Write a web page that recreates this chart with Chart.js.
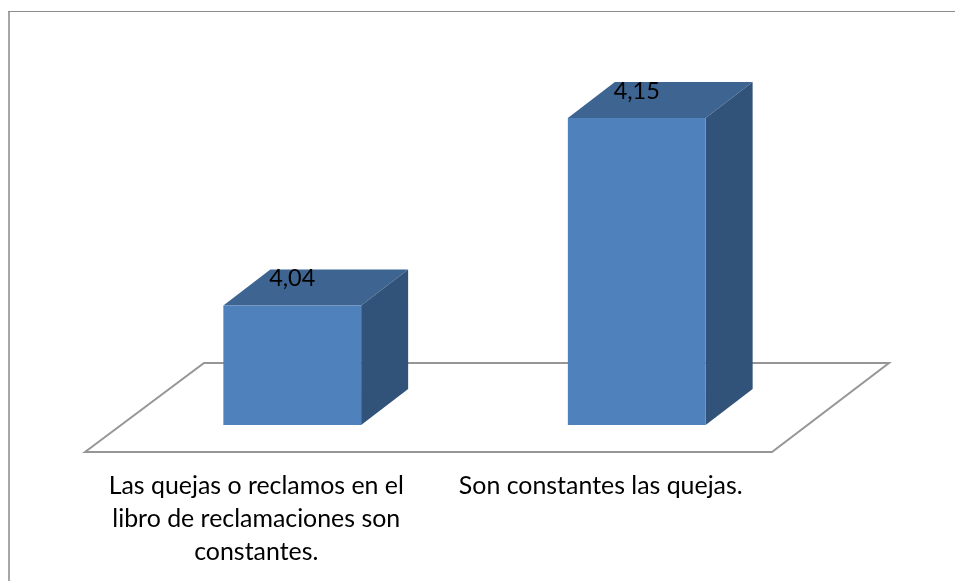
<!DOCTYPE html>
<html lang="es">
<head>
<meta charset="utf-8">
<title>Quejas y reclamos</title>
<script src="https://cdn.jsdelivr.net/npm/chart.js@4"></script>
<style>
  html, body { margin: 0; padding: 0; background: #ffffff; overflow: hidden; }
  canvas { display: block; }
</style>
</head>
<body>
<canvas id="chart1" width="957" height="581"></canvas>
<script>
// Datos del grafico
const categories = [
    ['Las quejas o reclamos en el', 'libro de reclamaciones son', 'constantes.'],
    ['Son constantes las quejas.']
];
const values = [4.04, 4.15];
const axisMin = 3.97;
const axisMax = 4.15;

const fontName = 'Lato, "Noto Sans", sans-serif';

// Marco gris (solo arriba e izquierda) y piso en perspectiva
const floorPlugin = {
    id: 'floor',
    beforeDatasetsDraw(chart) {
        const ctx = chart.ctx;
        const area = chart.chartArea;
        ctx.save();

        ctx.fillStyle = '#a6a6a6';
        ctx.fillRect(8, 11, 2, chart.height - 11);
        ctx.fillStyle = '#8c8c8c';
        ctx.fillRect(8, 11, chart.width - 10, 1);

        ctx.strokeStyle = '#969696';
        ctx.lineWidth = 2;
        ctx.lineJoin = 'miter';
        ctx.beginPath();
        ctx.moveTo(area.left - 35, area.bottom + 27);
        ctx.lineTo(area.left + 84, area.bottom - 62);
        ctx.lineTo(area.right + 80, area.bottom - 62);
        ctx.lineTo(area.right - 37, area.bottom + 27);
        ctx.closePath();
        ctx.stroke();

        // Caras superior y lateral de cada barra
        const dx = 47, dy = 36;
        chart.getDatasetMeta(0).data.forEach(function (bar) {
            const left = bar.x - bar.width / 2;
            const right = bar.x + bar.width / 2;

            ctx.fillStyle = '#3e6591';
            ctx.beginPath();
            ctx.moveTo(left, bar.y);
            ctx.lineTo(left + dx, bar.y - dy);
            ctx.lineTo(right + dx, bar.y - dy);
            ctx.lineTo(right, bar.y);
            ctx.closePath();
            ctx.fill();

            // La base de la barra queda fuera de la escala, se usa el borde del area
            ctx.fillStyle = '#325379';
            ctx.beginPath();
            ctx.moveTo(right, bar.y);
            ctx.lineTo(right + dx, bar.y - dy);
            ctx.lineTo(right + dx, area.bottom - dy);
            ctx.lineTo(right, area.bottom);
            ctx.closePath();
            ctx.fill();
        });
        ctx.restore();
    },
    afterDatasetsDraw(chart) {
        // Etiquetas de valor con coma decimal
        const ctx = chart.ctx;
        ctx.save();
        ctx.font = '23.5px ' + fontName;
        ctx.fillStyle = '#000000';
        ctx.textAlign = 'center';
        ctx.textBaseline = 'middle';
        chart.getDatasetMeta(0).data.forEach(function (bar, i) {
            ctx.fillText(values[i].toFixed(2).replace('.', ','), bar.x, bar.y - 27);
        });
        ctx.restore();
    }
};

const chart1 = new Chart(document.getElementById('chart1'), {
    type: 'bar',
    data: {
        labels: categories,
        datasets: [{
            data: values,
            backgroundColor: '#4f81bd',
            barPercentage: 0.4,
            categoryPercentage: 1
        }]
    },
    options: {
        responsive: false,
        animation: false,
        layout: {
            padding: { left: 120, right: 148, top: 118, bottom: 0 }
        },
        plugins: {
            legend: { display: false },
            tooltip: { enabled: false }
        },
        scales: {
            x: {
                grid: { display: false, drawTicks: false },
                border: { display: false },
                ticks: {
                    color: '#000000',
                    font: { family: fontName, size: 24.9, lineHeight: 1.32 },
                    padding: 45,
                    labelOffset: -36,
                    maxRotation: 0,
                    autoSkip: false
                },
                afterFit(scale) {
                    scale.height = 156;
                }
            },
            y: {
                display: false,
                min: axisMin,
                max: axisMax
            }
        }
    },
    plugins: [floorPlugin]
});
</script>
</body>
</html>
